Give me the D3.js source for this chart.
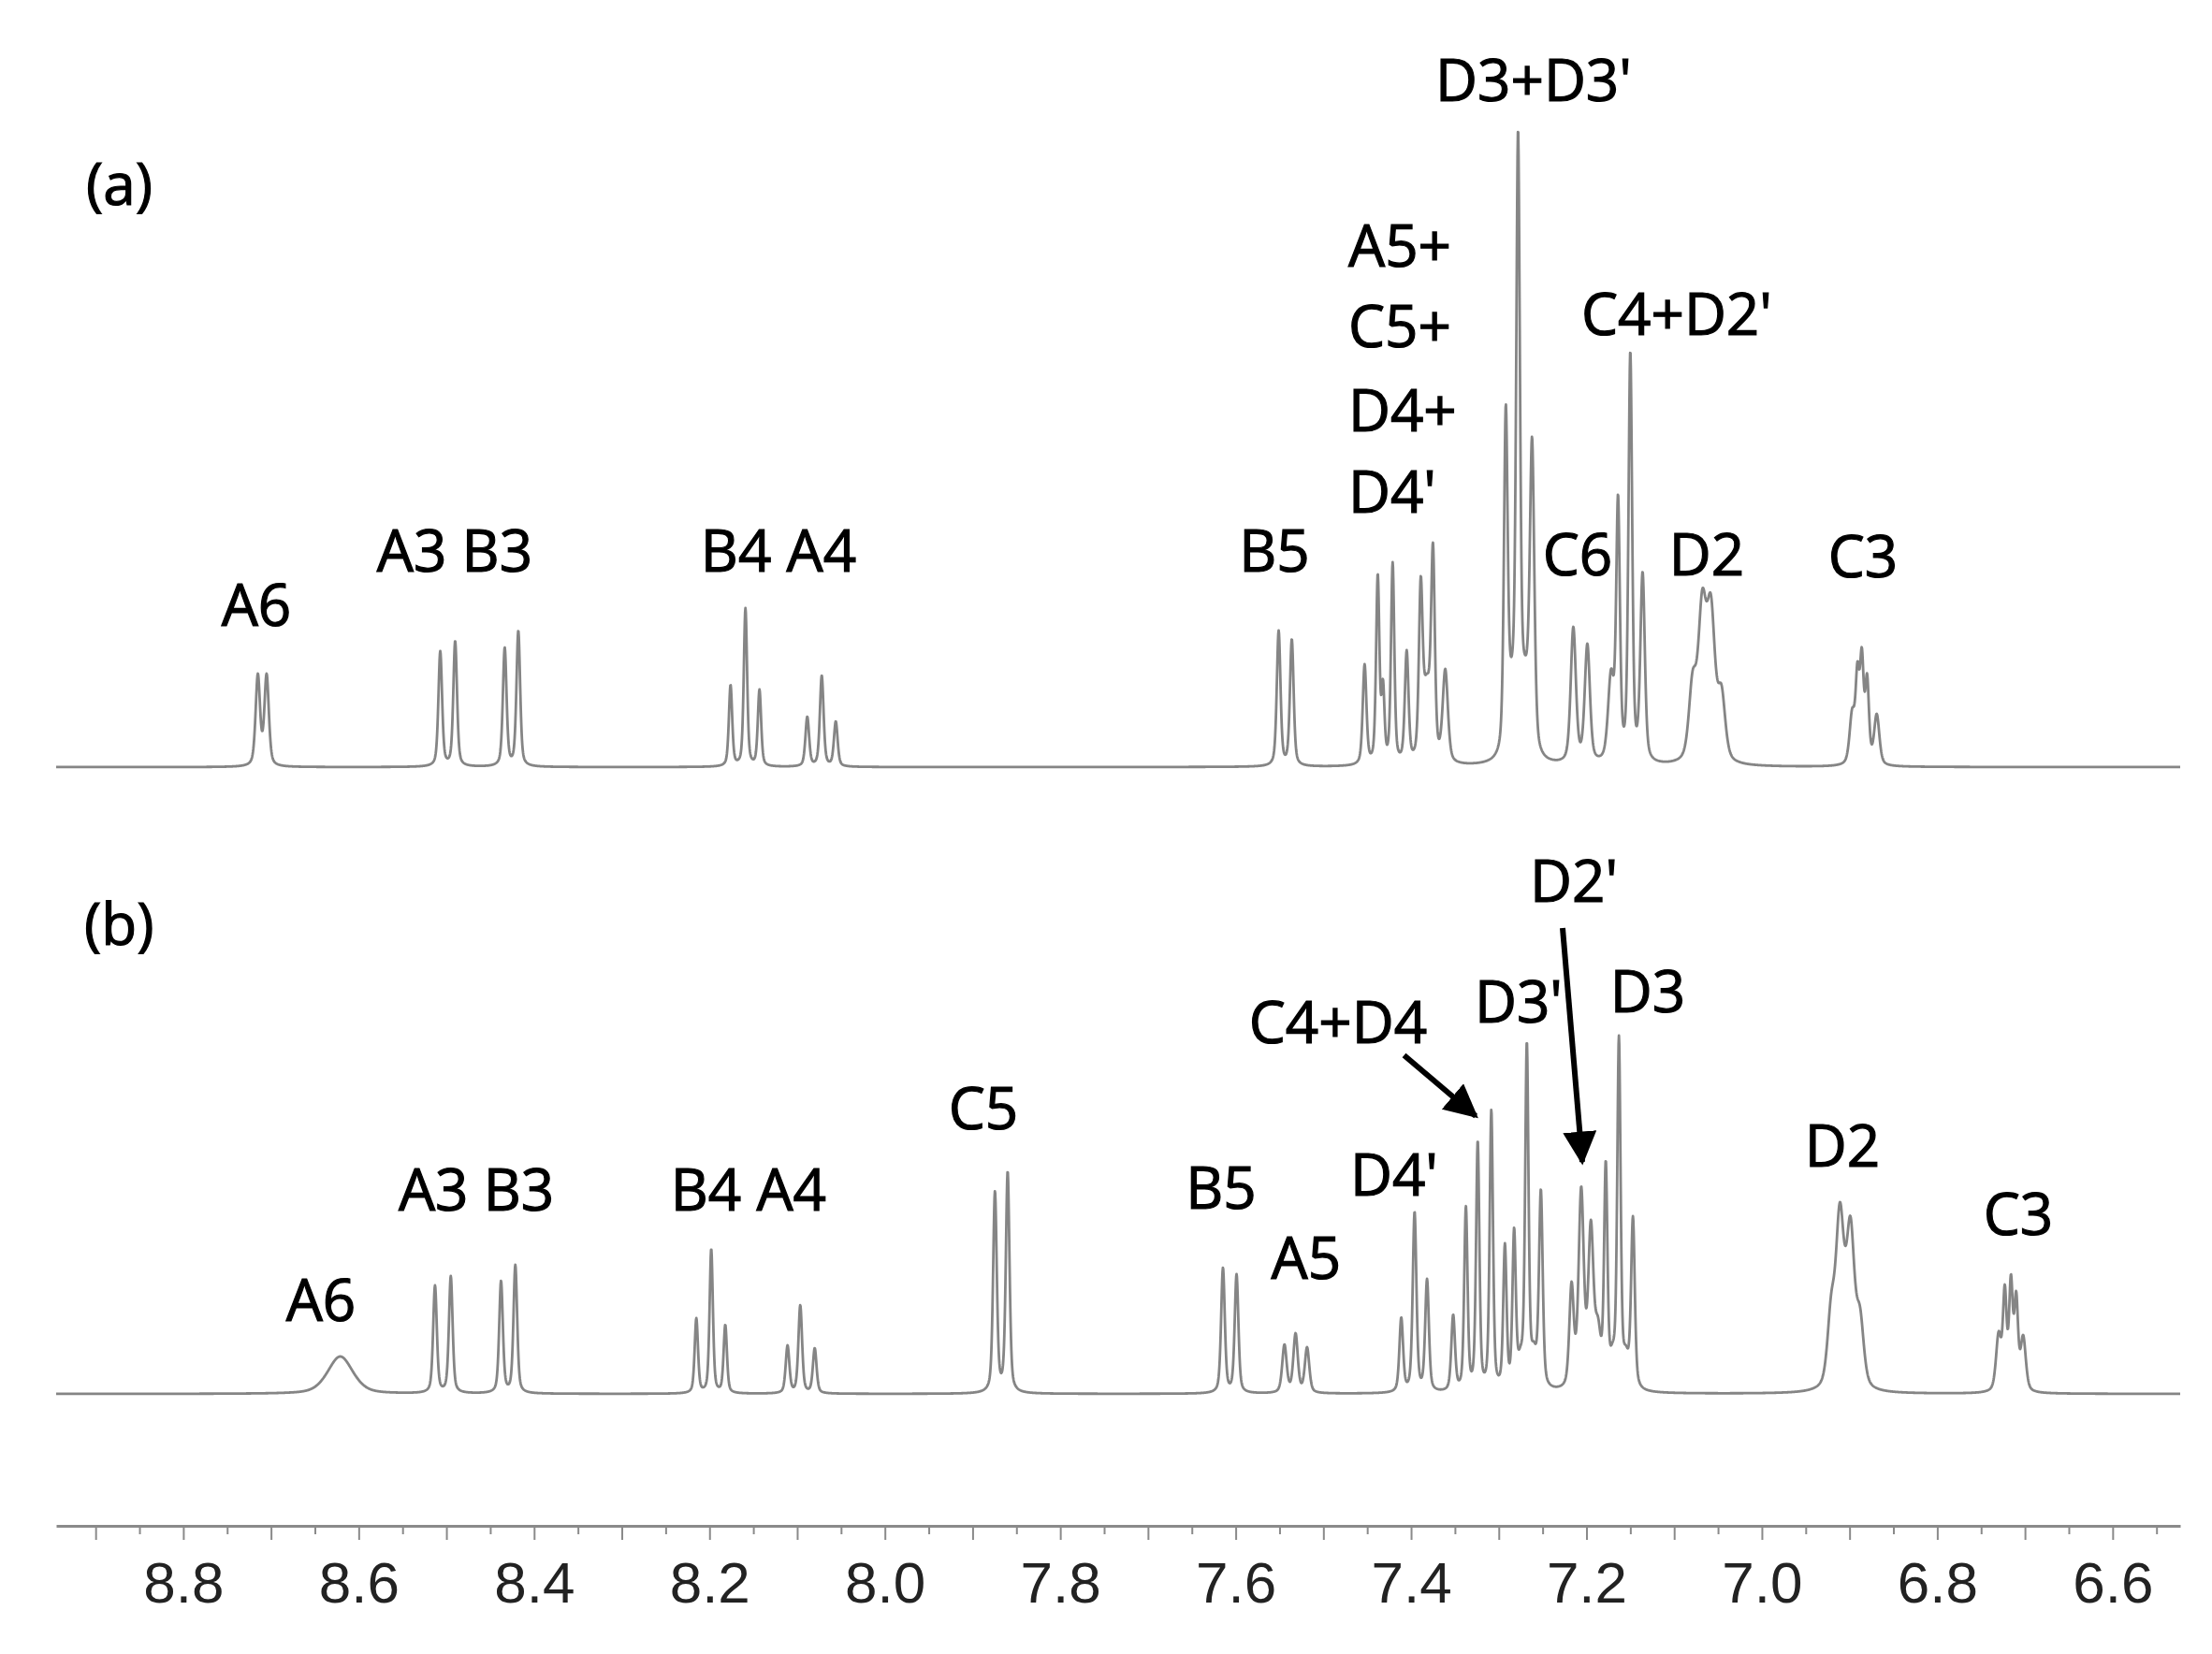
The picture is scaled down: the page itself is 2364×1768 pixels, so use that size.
<!DOCTYPE html>
<html>
<head>
<meta charset="utf-8">
<script src="https://cdn.jsdelivr.net/npm/d3@7"></script>
<style>
  body { margin: 0; background: #fff; }
  .lbl { font-family: "Open Sans", "Noto Sans", sans-serif; font-size: 62px; fill: #000; stroke: #000; stroke-width: 1.2px; }
  .tick text { font-family: "Liberation Sans Narrow", "Liberation Sans", Arial, sans-serif; font-size: 62px; fill: #222; }
</style>
</head>
<body>
<svg id="nmr" width="2364" height="1768"></svg>
<script>
// peaks: [shift (ppm), apex height, line width (ppm)]
const peaksA = [
  [8.715, 100, 0.006], [8.705, 100, 0.006],
  [8.507, 124, 0.005], [8.490, 135, 0.005],
  [8.4335, 128, 0.005], [8.418, 146, 0.005],
  [8.176, 88, 0.0045], [8.159, 170, 0.0045], [8.143, 83, 0.0045],
  [8.0885, 54, 0.005], [8.072, 98, 0.005], [8.056, 49, 0.005],
  [7.551, 146, 0.005], [7.536, 137, 0.005],
  [7.453, 110, 0.005], [7.438, 207, 0.0045], [7.432, 94, 0.004], [7.421, 219, 0.0045],
  [7.405, 125, 0.005], [7.382, 100, 0.01], [7.389, 204, 0.005], [7.375, 240, 0.005], [7.361, 105, 0.007],
  [7.292, 388, 0.005], [7.285, 120, 0.012], [7.278, 682, 0.005], [7.270, 120, 0.012], [7.262, 353, 0.006],
  [7.215, 150, 0.007], [7.199, 132, 0.007],
  [7.172, 105, 0.008], [7.164, 292, 0.005], [7.150, 445, 0.005], [7.136, 209, 0.006],
  [7.079, 103, 0.01], [7.068, 190, 0.011], [7.058, 184, 0.011], [7.046, 88, 0.01],
  [6.897, 63, 0.007], [6.891, 113, 0.005], [6.886, 128, 0.005], [6.880, 100, 0.005], [6.869, 57, 0.007]
];

const peaksB = [
  [8.621, 40, 0.034],
  [8.513, 116, 0.005], [8.495, 126, 0.005],
  [8.4377, 121, 0.005], [8.4214, 138, 0.005],
  [8.215, 81, 0.0045], [8.198, 155, 0.0045], [8.182, 74, 0.0045],
  [8.111, 52, 0.005], [8.0965, 95, 0.005], [8.080, 49, 0.005],
  [7.8745, 217, 0.005], [7.860, 238, 0.005],
  [7.6145, 135, 0.005], [7.599, 128, 0.005],
  [7.5444, 53, 0.006], [7.5317, 65, 0.006], [7.5186, 50, 0.006],
  [7.4112, 82, 0.005], [7.396, 195, 0.005], [7.3818, 123, 0.005],
  [7.352, 85, 0.005], [7.3375, 201, 0.0045], [7.324, 271, 0.0045], [7.3085, 304, 0.0045],
  [7.293, 161, 0.0045], [7.2825, 178, 0.0045], [7.275, 52, 0.008], [7.268, 377, 0.0045],
  [7.260, 56, 0.008], [7.252, 219, 0.005],
  [7.217, 120, 0.006], [7.206, 222, 0.007], [7.195, 186, 0.007], [7.187, 83, 0.008],
  [7.178, 250, 0.0045], [7.170, 56, 0.008], [7.163, 383, 0.0045], [7.155, 52, 0.008], [7.147, 190, 0.005],
  [6.921, 107, 0.01], [6.911, 205, 0.011], [6.899, 190, 0.011], [6.888, 93, 0.01],
  [6.730, 67, 0.007], [6.723, 117, 0.005], [6.716, 128, 0.005], [6.710, 110, 0.005], [6.702, 63, 0.007]
];

// labels: [text, shift, height above baseline]
const labelsA = [
  ["A6", 8.7167, 151], ["A3 B3", 8.4905, 209], ["B4 A4", 8.1213, 209], ["B5", 7.5558, 209],
  ["D3+D3'", 7.2603, 712], ["C4+D2'", 7.0971, 462], ["C6", 7.2102, 205], ["D2", 7.0629, 205], ["C3", 6.8847, 203]
];
const stackA = [["A5+", 535], ["C5+", 449], ["D4+", 359], ["D4'", 272]];
const stackShiftA = 7.4716;

const labelsB = [
  ["A6", 8.6431, 78], ["A3 B3", 8.4659, 196], ["B4 A4", 8.1555, 196], ["C5", 7.8877, 283],
  ["B5", 7.6167, 198], ["A5", 7.5196, 123], ["D4'", 7.4193, 212], ["C4+D4", 7.4833, 375],
  ["D3'", 7.2774, 397], ["D3", 7.1301, 408], ["D2'", 7.2144, 526], ["D2", 6.9082, 243], ["C3", 6.7076, 170]
];
// arrows: [from shift, from height, to shift, to height]
const arrowsB = [[7.408, 362, 7.3263, 297], [7.2272, 498, 7.2048, 248]];

const panelNames = ["(a)", "(b)"];
const panelPos = [[8.9109, 601], [8.913, 480]];

const majorTicks = d3.range(89, 65, -1).map(d => d / 10);
const minorTicks = d3.range(177, 130, -2).map(d => d / 20);
const tickLabels = [8.8, 8.6, 8.4, 8.2, 8.0, 7.8, 7.6, 7.4, 7.2, 7.0, 6.8, 6.6];

const shiftRange = [8.945, 6.523];

class SpectrumPlot {
  constructor(svg) {
    this.svg = svg;
    this.x = d3.scaleLinear().domain(shiftRange).range([60, 2330]);
    this.eta = 0.45;
  }

  shape(ppm, c, w) {
    let d = (ppm - c) / (w / 2);
    return this.eta / (1 + d * d) + (1 - this.eta) * Math.exp(-Math.LN2 * d * d);
  }

  // find amplitudes so that the summed trace hits each apex height
  solve(peaks) {
    let amps = peaks.map(p => p[1]);
    for (let it = 0; it < 400; it++) {
      for (let j = 0; j < peaks.length; j++) {
        let v = 0;
        for (let i = 0; i < peaks.length; i++) v += amps[i] * this.shape(peaks[j][0], peaks[i][0], peaks[i][2]);
        amps[j] = Math.max(0, amps[j] + 0.5 * (peaks[j][1] - v));
      }
    }
    return amps;
  }

  drawTrace(peaks, y) {
    var self = this;
    let amps = this.solve(peaks);
    let pts = d3.range(shiftRange[0], shiftRange[1], -0.0004).map(function(ppm) {
      let v = 0;
      peaks.forEach((p, i) => { v += amps[i] * self.shape(ppm, p[0], p[2]); });
      return [ppm, v];
    });
    let line = d3.line().x(d => self.x(d[0])).y(d => y(d[1]));
    this.svg.append("path")
      .datum(pts)
      .attr("d", line)
      .attr("fill", "none")
      .attr("stroke", "#858585")
      .attr("stroke-width", 2.8)
      .attr("stroke-linejoin", "round");
  }

  drawLabels(labels, y) {
    this.svg.append("g").selectAll("text")
      .data(labels)
      .enter().append("text")
      .attr("class", "lbl")
      .attr("x", d => this.x(d[1]))
      .attr("y", d => y(d[2]))
      .attr("text-anchor", "middle")
      .text(d => d[0]);
  }

  drawAxis() {
    let axisY = 1631;
    let major = d3.axisBottom(this.x)
      .tickValues(majorTicks)
      .tickSize(15)
      .tickSizeOuter(0)
      .tickFormat(d => tickLabels.some(t => Math.abs(t - d) < 1e-6) ? d.toFixed(1) : "");
    let g = this.svg.append("g")
      .attr("transform", "translate(0," + axisY + ")")
      .call(major);
    g.select(".domain").attr("stroke", "#8a8a8a").attr("stroke-width", 3);
    g.selectAll(".tick line").attr("stroke", "#8a8a8a").attr("stroke-width", 2);
    g.selectAll(".tick text").attr("y", 82).attr("dy", 0);

    let minor = d3.axisBottom(this.x).tickValues(minorTicks).tickSize(9).tickFormat("");
    let g2 = this.svg.append("g")
      .attr("transform", "translate(0," + axisY + ")")
      .call(minor);
    g2.select(".domain").remove();
    g2.selectAll(".tick line").attr("stroke", "#8a8a8a").attr("stroke-width", 2);
  }
}

const svg = d3.select("#nmr");
svg.append("defs").append("marker")
  .attr("id", "head")
  .attr("viewBox", "0 0 10 10")
  .attr("refX", 9).attr("refY", 5)
  .attr("markerWidth", 6).attr("markerHeight", 6)
  .attr("markerUnits", "strokeWidth")
  .attr("orient", "auto")
  .append("path").attr("d", "M0,0 L10,5 L0,10 Z").attr("fill", "#000");

const plot = new SpectrumPlot(svg);
const yA = d3.scaleLinear().domain([0, 700]).range([820, 120]);
const yB = d3.scaleLinear().domain([0, 700]).range([1490, 790]);

plot.drawTrace(peaksA, yA);
plot.drawTrace(peaksB, yB);
plot.drawAxis();

plot.drawLabels(labelsA, yA);
plot.drawLabels(labelsB, yB);

svg.append("g").selectAll("text")
  .data(stackA)
  .enter().append("text")
  .attr("class", "lbl")
  .attr("x", plot.x(stackShiftA))
  .attr("y", d => yA(d[1]))
  .text(d => d[0]);

[yA, yB].forEach(function(y, i) {
  svg.append("text")
    .attr("class", "lbl")
    .attr("x", plot.x(panelPos[i][0]))
    .attr("y", y(panelPos[i][1]))
    .text(panelNames[i]);
});

svg.append("g").selectAll("line")
  .data(arrowsB)
  .enter().append("line")
  .attr("x1", d => plot.x(d[0]))
  .attr("y1", d => yB(d[1]))
  .attr("x2", d => plot.x(d[2]))
  .attr("y2", d => yB(d[3]))
  .attr("stroke", "#000")
  .attr("stroke-width", 6)
  .attr("marker-end", "url(#head)");
</script>
</body>
</html>
